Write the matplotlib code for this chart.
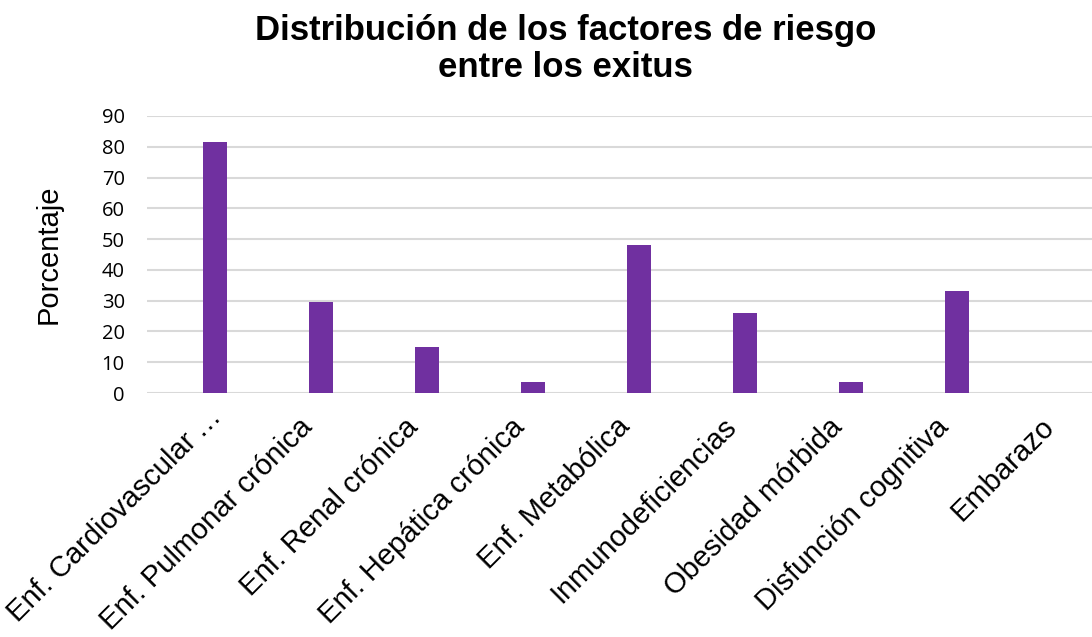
import numpy as np
import matplotlib.pyplot as plt
from matplotlib.transforms import ScaledTranslation

# Datos
categorias = ["Enf. Cardiovascular\u2009\u2026", "Enf. Pulmonar crónica", "Enf. Renal crónica",
              "Enf. Hepática crónica", "Enf. Metabólica", "Inmunodeficiencias",
              "Obesidad mórbida", "Disfunción cognitiva", "Embarazo"]
porcentaje = [81.5, 29.6, 14.8, 3.7, 48.1, 25.9, 3.7, 33.3, 0]
yticks = [0, 10, 20, 30, 40, 50, 60, 70, 80, 90]

fig = plt.figure(figsize=(10.92, 6.37), dpi=100)
ax = fig.add_axes([0.1346, 0.383, 0.8654, 0.435])

x = np.arange(len(categorias))
ax.bar(x, porcentaje, width=0.226, color="#7030A0", zorder=3)

ax.set_xlim(-0.64, 8.27)
ax.set_ylim(0, 90)
ax.set_yticks(yticks)
ax.yaxis.grid(True, color="#D9D9D9", linewidth=1.5, zorder=0)
for s in ax.spines.values():
    s.set_visible(False)
ax.tick_params(axis="both", length=0)
ax.tick_params(axis="y", pad=16)
for t in ax.get_yticklabels():
    t.set_fontfamily("Open Sans")
    t.set_fontsize(14.5)

ax.set_xticks(x)
ax.set_xticklabels(categorias, rotation=45, ha="right", va="top", rotation_mode="anchor",
                   fontfamily=["Liberation Sans", "DejaVu Sans"], fontsize=21)
ax.tick_params(axis="x", pad=12)
for i, t in enumerate(ax.get_xticklabels()):
    dx, dy = (-23, -3) if i > 0 else (-8, 7)
    t.set_transform(t.get_transform() + ScaledTranslation(dx / 100, dy / 100, fig.dpi_scale_trans))

ax.set_ylabel("Porcentaje", fontfamily="Liberation Sans", fontsize=21, labelpad=28)

fig.text(0.518, 0.978, "Distribución de los factores de riesgo\nentre los exitus",
         ha="center", va="top", fontfamily="Liberation Sans", fontweight="bold",
         fontsize=25, linespacing=1.15)

fig.savefig("out.png", dpi=100)
